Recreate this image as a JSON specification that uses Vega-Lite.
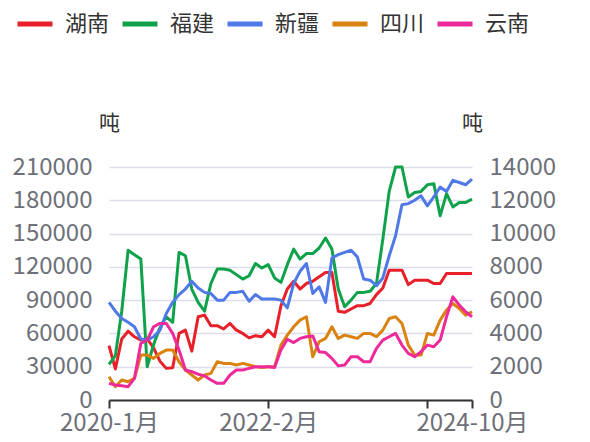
{
  "$schema": "https://vega.github.io/schema/vega-lite/v6.json",
  "width": 363,
  "height": 233,
  "autosize": {"type": "none"},
  "padding": {"left": 109, "top": 167, "right": 118, "bottom": 42},
  "background": "white",
  "config": {
    "font": "Noto Sans CJK SC",
    "view": {"stroke": null}
  },
  "data": {
    "values": [
      {"month": "2020-01", "湖南": 49000, "福建": 32000, "新疆": 88000, "四川": 1400, "云南": 1000},
      {"month": "2020-02", "湖南": 28000, "福建": 40000, "新疆": 80000, "四川": 800, "云南": 900},
      {"month": "2020-03", "湖南": 55000, "福建": 80000, "新疆": 73500, "四川": 1200, "云南": 850},
      {"month": "2020-04", "湖南": 62000, "福建": 135000, "新疆": 70000, "四川": 1100, "云南": 800},
      {"month": "2020-05", "湖南": 57000, "福建": 131000, "新疆": 66000, "四川": 1300, "云南": 1300},
      {"month": "2020-06", "湖南": 54000, "福建": 127000, "新疆": 55000, "四川": 2700, "云南": 3400},
      {"month": "2020-07", "湖南": 55000, "福建": 30000, "新疆": 54000, "四川": 2700, "云南": 3600},
      {"month": "2020-08", "湖南": 47000, "福建": 50000, "新疆": 57000, "四川": 2500, "云南": 4400},
      {"month": "2020-09", "湖南": 35000, "福建": 65000, "新疆": 63000, "四川": 2800, "云南": 4600},
      {"month": "2020-10", "湖南": 28500, "福建": 75000, "新疆": 78000, "四川": 3000, "云南": 4600},
      {"month": "2020-11", "湖南": 29000, "福建": 70000, "新疆": 88000, "四川": 3000, "云南": 4000},
      {"month": "2020-12", "湖南": 60000, "福建": 133000, "新疆": 95000, "四川": 2300, "云南": 3000},
      {"month": "2021-01", "湖南": 63000, "福建": 130000, "新疆": 100000, "四川": 1800, "云南": 1800},
      {"month": "2021-02", "湖南": 44000, "福建": 100000, "新疆": 107000, "四川": 1500, "云南": 1700},
      {"month": "2021-03", "湖南": 75000, "福建": 88000, "新疆": 101000, "四川": 1200, "云南": 1550},
      {"month": "2021-04", "湖南": 76500, "福建": 80000, "新疆": 97000, "四川": 1500, "云南": 1450},
      {"month": "2021-05", "湖南": 67000, "福建": 105000, "新疆": 96000, "四川": 1600, "云南": 1200},
      {"month": "2021-06", "湖南": 67000, "福建": 118000, "新疆": 90000, "四川": 2300, "云南": 1000},
      {"month": "2021-07", "湖南": 64000, "福建": 118000, "新疆": 90000, "四川": 2200, "云南": 1000},
      {"month": "2021-08", "湖南": 69000, "福建": 117000, "新疆": 97000, "四川": 2200, "云南": 1500},
      {"month": "2021-09", "湖南": 63000, "福建": 113000, "新疆": 97000, "四川": 2100, "云南": 1800},
      {"month": "2021-10", "湖南": 60000, "福建": 109000, "新疆": 98000, "四川": 2200, "云南": 1800},
      {"month": "2021-11", "湖南": 56000, "福建": 112000, "新疆": 89000, "四川": 2100, "云南": 1900},
      {"month": "2021-12", "湖南": 58000, "福建": 123000, "新疆": 95000, "四川": 2000, "云南": 2000},
      {"month": "2022-01", "湖南": 57000, "福建": 119000, "新疆": 91000, "四川": 1950, "云南": 2000},
      {"month": "2022-02", "湖南": 63000, "福建": 122000, "新疆": 91000, "四川": 2000, "云南": 2000},
      {"month": "2022-03", "湖南": 57000, "福建": 110000, "新疆": 91000, "四川": 2000, "云南": 1950},
      {"month": "2022-04", "湖南": 85000, "福建": 106000, "新疆": 90000, "四川": 3300, "云南": 3000},
      {"month": "2022-05", "湖南": 100000, "福建": 122000, "新疆": 83000, "四川": 3900, "云南": 3650},
      {"month": "2022-06", "湖南": 107000, "福建": 136000, "新疆": 105000, "四川": 4400, "云南": 3450},
      {"month": "2022-07", "湖南": 100000, "福建": 127000, "新疆": 116000, "四川": 4800, "云南": 3700},
      {"month": "2022-08", "湖南": 105000, "福建": 132000, "新疆": 123000, "四川": 5000, "云南": 3800},
      {"month": "2022-09", "湖南": 107000, "福建": 132000, "新疆": 96000, "四川": 2600, "云南": 3850},
      {"month": "2022-10", "湖南": 111000, "福建": 137000, "新疆": 102000, "四川": 3500, "云南": 2900},
      {"month": "2022-11", "湖南": 115000, "福建": 146000, "新疆": 88000, "四川": 3700, "云南": 2850},
      {"month": "2022-12", "湖南": 115000, "福建": 136000, "新疆": 128000, "四川": 4400, "云南": 2500},
      {"month": "2023-01", "湖南": 80000, "福建": 100000, "新疆": 131000, "四川": 3700, "云南": 2050},
      {"month": "2023-02", "湖南": 79000, "福建": 84000, "新疆": 133000, "四川": 3900, "云南": 2100},
      {"month": "2023-03", "湖南": 82000, "福建": 90000, "新疆": 135000, "四川": 3800, "云南": 2600},
      {"month": "2023-04", "湖南": 85000, "福建": 97000, "新疆": 129000, "四川": 3700, "云南": 2600},
      {"month": "2023-05", "湖南": 85000, "福建": 97000, "新疆": 109000, "四川": 4000, "云南": 2300},
      {"month": "2023-06", "湖南": 87000, "福建": 98000, "新疆": 108000, "四川": 4000, "云南": 2300},
      {"month": "2023-07", "湖南": 95000, "福建": 105000, "新疆": 103000, "四川": 3800, "云南": 3100},
      {"month": "2023-08", "湖南": 101000, "福建": 145000, "新疆": 110000, "四川": 4200, "云南": 3600},
      {"month": "2023-09", "湖南": 117000, "福建": 188000, "新疆": 130000, "四川": 4900, "云南": 3800},
      {"month": "2023-10", "湖南": 117000, "福建": 210000, "新疆": 148000, "四川": 5000, "云南": 4000},
      {"month": "2023-11", "湖南": 117000, "福建": 210000, "新疆": 176000, "四川": 4600, "云南": 3300},
      {"month": "2023-12", "湖南": 104000, "福建": 183000, "新疆": 177000, "四川": 3300, "云南": 2800},
      {"month": "2024-01", "湖南": 108000, "福建": 187000, "新疆": 180000, "四川": 2700, "云南": 2600},
      {"month": "2024-02", "湖南": 108000, "福建": 188000, "新疆": 184000, "四川": 2700, "云南": 2900},
      {"month": "2024-03", "湖南": 108000, "福建": 194000, "新疆": 175000, "四川": 4000, "云南": 3300},
      {"month": "2024-04", "湖南": 105000, "福建": 195000, "新疆": 183000, "四川": 3900, "云南": 3200},
      {"month": "2024-05", "湖南": 105000, "福建": 166000, "新疆": 192000, "四川": 4800, "云南": 3600},
      {"month": "2024-06", "湖南": 114000, "福建": 186000, "新疆": 188000, "四川": 5400, "云南": 5000},
      {"month": "2024-07", "湖南": 114000, "福建": 174000, "新疆": 198000, "四川": 5800, "云南": 6200},
      {"month": "2024-08", "湖南": 114000, "福建": 178000, "新疆": 196000, "四川": 5500, "云南": 5700},
      {"month": "2024-09", "湖南": 114000, "福建": 178000, "新疆": 194000, "四川": 5100, "云南": 5300},
      {"month": "2024-10", "湖南": 114000, "福建": 181000, "新疆": 199000, "四川": 5300, "云南": 5000}
    ]
  },
  "transform": [
    {"fold": ["湖南", "福建", "新疆", "四川", "云南"], "as": ["province", "value"]}
  ],
  "encoding": {
    "x": {
      "field": "month",
      "type": "ordinal",
      "sort": null,
      "scale": {"type": "point", "padding": 0},
      "axis": {
        "title": null,
        "values": ["2020-01", "2022-02", "2024-03", "2024-10"],
        "labelExpr": "datum.value == '2024-03' ? '' : substring(datum.value, 0, 5) + toNumber(substring(datum.value, 5, 7)) + '月'",
        "labelAngle": 0,
        "labelFontSize": 24,
        "labelColor": "#6e7079",
        "labelPadding": 3,
        "labelFlush": false,
        "labelOverlap": false,
        "domainColor": "#333333",
        "domainWidth": 2,
        "tickColor": "#333333",
        "tickWidth": 2,
        "tickSize": 8,
        "grid": false
      }
    },
    "color": {
      "field": "province",
      "type": "nominal",
      "scale": {
        "domain": ["湖南", "福建", "新疆", "四川", "云南"],
        "range": ["#e8202a", "#10a14b", "#5079e8", "#d9820f", "#ee2a9b"]
      },
      "legend": {
        "title": null,
        "orient": "none",
        "direction": "horizontal",
        "legendX": -94,
        "legendY": -163,
        "symbolType": "stroke",
        "symbolSize": 1225,
        "symbolStrokeWidth": 5,
        "labelFontSize": 22,
        "labelColor": "#333333",
        "labelOffset": 10,
        "columnPadding": 2
      }
    }
  },
  "layer": [
    {
      "transform": [{"filter": "indexof(['湖南','福建','新疆'], datum.province) >= 0"}],
      "mark": {"type": "line", "strokeWidth": 3, "strokeJoin": "round"},
      "encoding": {
        "y": {
          "field": "value",
          "type": "quantitative",
          "scale": {"domain": [0, 210000], "nice": false, "zero": true},
          "axis": {
            "title": "吨",
            "titleAngle": 0,
            "titleX": 0,
            "titleY": -44,
            "titleAlign": "center",
            "titleBaseline": "middle",
            "titleFontSize": 21,
            "titleFontWeight": "normal",
            "titleColor": "#333333",
            "values": [0, 30000, 60000, 90000, 120000, 150000, 180000, 210000],
            "labelFontSize": 24,
            "labelColor": "#6e7079",
            "labelPadding": 17,
            "format": "d",
            "ticks": false,
            "domain": false,
            "grid": true,
            "gridColor": "#dcdfea",
            "gridWidth": 1.5
          }
        }
      }
    },
    {
      "transform": [{"filter": "indexof(['四川','云南'], datum.province) >= 0"}],
      "mark": {"type": "line", "strokeWidth": 3, "strokeJoin": "round"},
      "encoding": {
        "y": {
          "field": "value",
          "type": "quantitative",
          "scale": {"domain": [0, 14000], "nice": false, "zero": true},
          "axis": {
            "orient": "right",
            "title": "吨",
            "titleAngle": 0,
            "titleX": 0,
            "titleY": -44,
            "titleAlign": "center",
            "titleBaseline": "middle",
            "titleFontSize": 21,
            "titleFontWeight": "normal",
            "titleColor": "#333333",
            "values": [0, 2000, 4000, 6000, 8000, 10000, 12000, 14000],
            "labelFontSize": 24,
            "labelColor": "#6e7079",
            "labelPadding": 17,
            "format": "d",
            "ticks": false,
            "domain": false,
            "grid": false
          }
        }
      }
    }
  ],
  "resolve": {"scale": {"y": "independent"}}
}
